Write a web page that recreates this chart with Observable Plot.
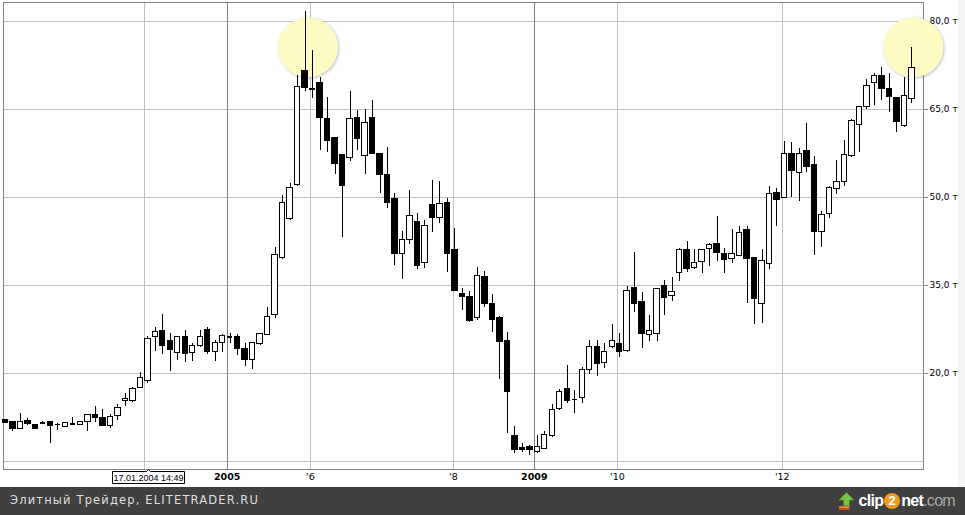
<!DOCTYPE html>
<html><head><meta charset="utf-8">
<script src="https://cdn.jsdelivr.net/npm/d3@7"></script>
<script src="https://cdn.jsdelivr.net/npm/@observablehq/plot@0.6"></script>
<style>
html,body{margin:0;padding:0;background:#fff;overflow:hidden;width:965px;height:515px}
#wrap{position:relative;width:965px;height:515px;overflow:hidden}
#chart svg{display:block}
#strip{position:absolute;left:958px;top:0;width:7px;height:487px;background:#f4f4f4}
#footer{position:absolute;left:0;top:487px;width:965px;height:28px;background:#404040}
#ft{position:absolute;left:10px;top:6px;font-family:"DejaVu Sans";font-size:11.5px;letter-spacing:1.15px;color:#dedede;white-space:nowrap}
#logo{position:absolute;right:10px;top:2px;height:24px;font-family:"Liberation Sans";font-weight:bold;font-size:16px;letter-spacing:-0.7px;color:#fff;white-space:nowrap;display:flex;align-items:center}
#logo .two{display:inline-block;width:16px;height:16px;border-radius:50%;background:#f39a1e;color:#fff;text-align:center;line-height:16px;font-size:13px;margin:0 1px;letter-spacing:0}
#logo .com{color:#a8a8a8;font-weight:normal}
#logo svg{margin-right:3px}
</style></head>
<body><div id="wrap"><div id="chart"></div><div id="strip"></div>
<div id="footer"><span id="ft">Элитный Трейдер, ELITETRADER.RU</span>
<span id="logo"><svg width="17" height="20" viewBox="0 0 18 20"><polygon points="9,1 17,9 12,9 12,15 6,15 6,9 1,9" fill="#7cc242" stroke="#4e9a1f" stroke-width="0.8"/><rect x="1" y="15.5" width="11" height="3.5" fill="#f0862a"/><rect x="1" y="17.5" width="11" height="1.5" fill="#d8402a"/></svg>clip<span class="two">2</span>net<span class="com">.com</span></span></div>
</div>
<script>
// Candle OHLC values (one candle per period, left to right)
const opens  = [12.1,11.8,10.6,11.9,11.3,11.6,11.8,11.3,10.9,11.4,11.25,11.8,13.0,12.5,11.1,12.8,15.4,15.4,17.6,18.8,
  26.3,27.3,25.6,23.5,26.3,23.5,24.7,27.5,23.7,25.2,26.2,26.3,24.2,22.3,25.1,26.6,30.0,39.7,46.4,52.2,
  71.6,68.5,69.6,63.4,60.1,57.2,56.8,63.6,57.1,63.6,57.5,53.8,49.7,40.4,42.7,45.9,38.9,48.8,46.5,49.0,
  41.1,33.6,33.1,29.5,36.5,31.8,29.5,25.5,9.3,7.3,7.4,6.6,7.2,9.4,14.0,17.4,15.6,15.9,20.6,24.6,
  21.8,24.6,25.1,23.8,34.6,32.2,26.6,26.7,35.0,33.2,37.1,41.0,38.0,39.0,41.3,42.0,40.4,39.5,40.1,44.5,
  39.7,31.9,38.7,50.7,50.0,57.4,54.2,58.0,55.5,44.2,47.2,51.5,52.6,57.0,62.4,65.4,69.5,70.7,68.5,67.0,
  62.2,66.8];
const highs  = [12.1,11.8,13.1,12.3,11.3,11.9,11.8,11.5,11.6,12.5,11.9,13.0,14.3,13.9,13.0,14.7,16.6,17.6,20.2,26.3,
  27.8,30.1,26.8,26.3,27.3,25.1,27.3,27.8,25.6,26.6,26.8,26.6,25.1,25.3,26.8,31.2,41.4,50.3,52.4,70.8,
  81.7,75.1,70.5,67.1,60.1,57.2,68.0,64.8,65.0,66.6,57.5,58.6,50.6,44.2,51.2,47.2,46.1,52.9,52.7,49.8,
  44.7,34.5,34.0,38.1,37.4,33.5,29.8,27.0,10.9,8.1,7.8,9.4,10.1,14.8,17.3,21.4,17.1,21.1,25.6,25.6,
  25.1,28.3,26.9,34.9,40.7,33.8,29.9,34.4,35.9,36.4,41.3,42.5,41.1,41.1,42.1,46.8,41.3,44.5,45.1,45.1,
  39.7,41.1,51.9,51.6,59.5,59.3,58.3,62.6,57.0,47.7,51.9,56.3,59.7,63.3,65.4,70.1,71.1,72.1,71.1,67.0,
  70.4,75.5];
const lows   = [11.6,10.2,10.6,11.2,10.4,11.4,8.1,10.3,10.9,11.1,11.2,10.2,11.7,11.1,10.7,12.0,14.3,15.1,17.4,18.3,
  23.8,23.3,20.4,22.2,21.8,22.1,24.4,23.3,22.0,23.6,25.1,23.1,21.2,20.7,24.7,26.6,29.3,39.5,46.0,51.8,
  68.1,66.9,58.0,57.6,54.0,43.2,56.2,58.0,53.9,57.4,50.6,48.2,38.4,36.0,42.0,37.8,37.9,44.1,45.6,37.3,
  34.0,30.7,28.7,29.0,31.3,27.0,19.0,9.7,6.4,6.5,6.0,6.4,7.0,9.1,13.7,14.9,13.1,14.9,19.9,19.5,
  20.8,24.2,22.8,23.6,30.4,24.3,25.5,25.5,29.9,32.3,35.7,37.3,37.7,37.1,38.2,39.1,37.1,38.7,39.9,31.9,
  28.3,28.6,37.8,45.1,49.8,50.0,49.4,54.3,40.2,41.5,46.5,50.5,51.9,56.9,57.7,65.0,65.6,66.6,64.5,61.1,
  61.9,66.1];
const closes = [11.6,10.6,11.7,11.4,10.6,11.7,11.1,11.2,11.6,11.5,11.8,13.0,12.5,11.1,12.6,14.2,15.7,17.4,19.3,25.9,
  27.1,24.7,24.0,26.3,23.4,24.7,26.3,23.6,25.2,26.4,26.3,24.2,22.3,25.2,26.7,29.7,40.2,49.1,51.7,68.9,
  68.6,68.5,63.5,59.6,55.7,51.9,63.3,59.9,62.7,57.4,53.8,49.1,40.4,42.8,46.9,38.3,45.2,46.5,48.9,40.3,
  34.0,33.1,28.9,36.7,31.8,29.1,25.3,16.8,7.0,6.9,6.9,7.4,9.5,13.7,16.9,15.4,15.5,20.6,24.6,21.7,
  23.7,25.6,23.6,34.1,31.9,26.7,27.3,34.4,32.8,33.9,41.1,37.8,38.9,41.0,41.9,40.6,39.3,40.4,44.0,39.6,
  32.7,39.1,50.6,49.6,57.4,54.5,57.4,55.2,44.1,47.0,51.6,52.7,57.2,63.0,65.4,69.0,70.7,68.5,67.1,62.8,
  67.3,72.0];

// Axis ticks
const yGrid = [5, 20, 35, 50, 65, 80];
const yLabelTicks = [20, 35, 50, 65, 80];
const xTickPos = [18.6, 29.6, 40.7, 59.8, 70.6, 81.7, 103.7];
const xTickLabels = ["", "2005", "'6", "'8", "2009", "'10", "'12"];
const xTickMajor = [false, true, false, false, true, false, false];

// Highlight circles and cursor label
const highlightIdx = [40.4, 121.2];
const highlightVal = [75.6, 75.6];
const cursorIdx = 19.1;
const cursorLabel = "17.01.2004 14:49";

const candles = opens.map((o, i) => ({i, o, h: highs[i], l: lows[i], c: closes[i]}));
const xticks = xTickPos.map((p, k) => ({p, label: xTickLabels[k], major: xTickMajor[k]}));
const highlights = highlightIdx.map((i, k) => ({i, v: highlightVal[k]}));
const hw = 0.36;
const fmtY = d => d.toFixed(1).replace(".", ",") + " т";

const chart = Plot.plot({
  width: 965, height: 487,
  marginLeft: 3, marginRight: 42, marginTop: 2, marginBottom: 18,
  style: {fontFamily: "DejaVu Sans", fontSize: "9px", color: "black", background: "white"},
  x: {type: "linear", domain: [-0.267, 122.56], axis: null},
  y: {domain: [3.64, 83.24], axis: null},
  marks: [
    Plot.ruleY(yGrid, {stroke: "#c0c0c0", shapeRendering: "crispEdges"}),
    Plot.ruleX(xticks.filter(d => !d.major), {x: "p", stroke: "#c0c0c0", shapeRendering: "crispEdges"}),
    Plot.ruleX(xticks.filter(d => d.major), {x: "p", stroke: "#808080", shapeRendering: "crispEdges"}),
    Plot.frame({stroke: "#808080", shapeRendering: "crispEdges"}),
    Plot.axisY({anchor: "right", ticks: yLabelTicks, tickSize: 4, tickPadding: 2, tickFormat: fmtY, stroke: "#808080", fill: "black", fontSize: 9, fontFamily: "DejaVu Sans"}),
    Plot.text(xticks.filter(d => !d.major && d.label !== ""), {x: "p", text: "label", frameAnchor: "bottom", lineAnchor: "top", dy: 4, fontSize: 9.5, fontFamily: "DejaVu Sans", fill: "black"}),
    Plot.text(xticks.filter(d => d.major), {x: "p", text: "label", frameAnchor: "bottom", lineAnchor: "top", dy: 4, fontSize: 9.5, fontWeight: "bold", fontFamily: "DejaVu Sans", fill: "black"}),
    Plot.dot(highlights, {x: "i", y: "v", r: 30, fill: "#fcfbc4", stroke: "none"}),
    Plot.ruleX(candles, {x: "i", y1: "l", y2: "h", stroke: "black", strokeWidth: 1, shapeRendering: "crispEdges"}),
    Plot.rect(candles.filter(d => d.c >= d.o && Math.abs(d.c - d.o) >= 0.15), {x1: d => d.i - hw, x2: d => d.i + hw, y1: "o", y2: "c", fill: "white", stroke: "black", strokeWidth: 1, shapeRendering: "crispEdges"}),
    Plot.rect(candles.filter(d => d.c < d.o && Math.abs(d.c - d.o) >= 0.15), {x1: d => d.i - hw, x2: d => d.i + hw, y1: "o", y2: "c", fill: "black", stroke: "black", strokeWidth: 1, shapeRendering: "crispEdges"}),
    Plot.ruleY(candles.filter(d => Math.abs(d.c - d.o) < 0.15), {y: "o", x1: d => d.i - hw, x2: d => d.i + hw, stroke: "black", strokeWidth: 1.5, shapeRendering: "crispEdges"}),
    Plot.tip([{i: cursorIdx, label: cursorLabel}], {x: "i", frameAnchor: "bottom", anchor: "top", title: "label", pointerSize: 4, textPadding: 1, fontSize: 9, fontFamily: "Liberation Sans", fill: "white", stroke: "black", pathFilter: "none", lineHeight: 1.1})
  ]
});
chart.querySelectorAll('g[aria-label="dot"] circle').forEach(c => c.style.filter = "drop-shadow(1px 1px 1.5px rgba(0,0,0,0.25))");
document.getElementById("chart").appendChild(chart);
</script>
</body></html>
